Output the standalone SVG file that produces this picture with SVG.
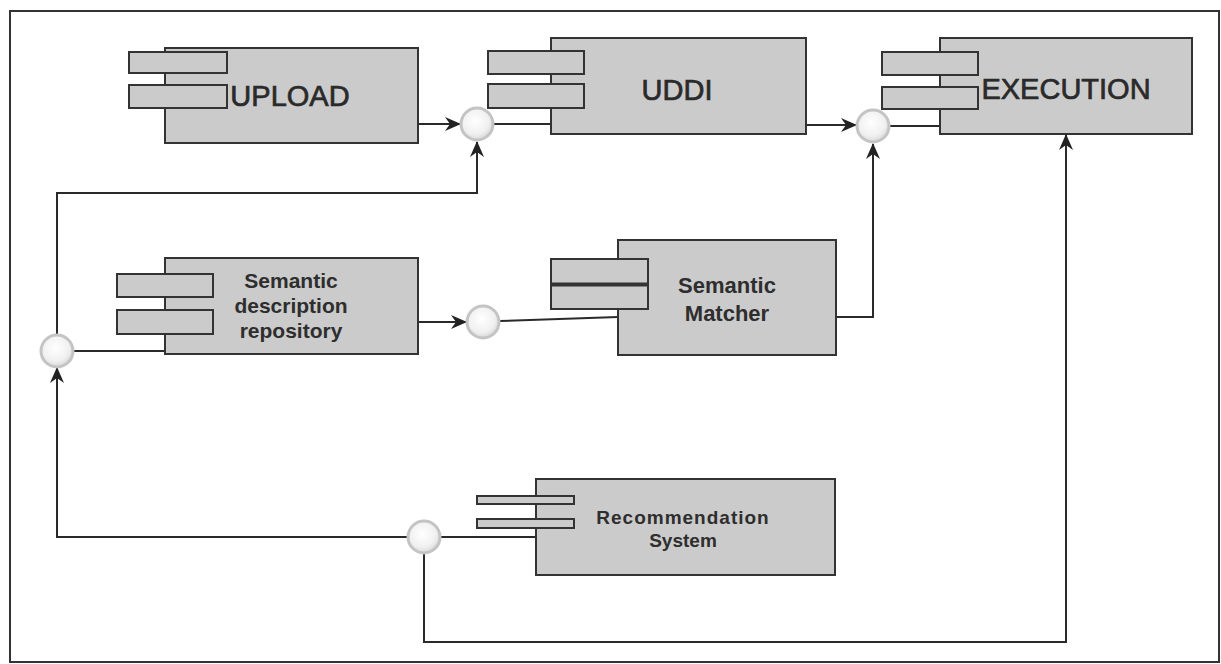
<svg xmlns="http://www.w3.org/2000/svg" width="1221" height="664" viewBox="0 0 1221 664">
<style>
.box{fill:#cbcbcb;stroke:#333;stroke-width:2}
.tab{fill:#cbcbcb;stroke:#333;stroke-width:2}
.big{font-family:"Liberation Sans",Arial,sans-serif;font-size:29px;fill:#2a2a2a;stroke:#2a2a2a;stroke-width:0.7;text-anchor:middle}
.lbl{font-family:"Liberation Sans",Arial,sans-serif;font-weight:bold;fill:#2e2e2e;text-anchor:middle}
.conn{fill:none;stroke:#2a2a2a;stroke-width:2}
.ifc{fill:url(#g);stroke:#c4c4c4;stroke-width:3}
</style>
<defs>
<radialGradient id="g" cx="0.45" cy="0.4" r="0.6">
<stop offset="0" stop-color="#ffffff"/>
<stop offset="0.7" stop-color="#f0f0f0"/>
<stop offset="1" stop-color="#d8d8d8"/>
</radialGradient>
<marker id="arr" viewBox="0 0 16 14" refX="15" refY="7" markerWidth="16" markerHeight="14" markerUnits="userSpaceOnUse" orient="auto">
<path d="M0,0 L16,7 L0,14 L5,7 Z" fill="#222"/>
</marker>
</defs>
<rect x="10" y="11" width="1209" height="651" fill="#fff" stroke="#333" stroke-width="2"/>
<g id="connectors">
<line class="conn" x1="418" y1="124" x2="460" y2="124" marker-end="url(#arr)"/>
<line class="conn" x1="494" y1="124" x2="551" y2="124"/>
<path class="conn" d="M57,334 V193 H477 V142" marker-end="url(#arr)"/>
<line class="conn" x1="74" y1="351" x2="165" y2="351"/>
<line class="conn" x1="418" y1="322" x2="466" y2="322" marker-end="url(#arr)"/>
<line class="conn" x1="500" y1="321" x2="618" y2="317"/>
<path class="conn" d="M836,317 H873 V144" marker-end="url(#arr)"/>
<line class="conn" x1="806" y1="125" x2="856" y2="125" marker-end="url(#arr)"/>
<line class="conn" x1="890" y1="126" x2="940" y2="126"/>
<path class="conn" d="M408,537 H57 V368" marker-end="url(#arr)"/>
<path class="conn" d="M424,553 V642 H1066 V135" marker-end="url(#arr)"/>
<line class="conn" x1="440" y1="537" x2="536" y2="537"/>
</g>
<g id="upload">
<rect class="box" x="165" y="48" width="253" height="95"/>
<rect class="tab" x="129" y="52" width="98" height="21"/>
<rect class="tab" x="129" y="85" width="98" height="23"/>
<text class="big" x="290" y="106">UPLOAD</text>
</g>
<g id="uddi">
<rect class="box" x="551" y="38" width="255" height="96"/>
<rect class="tab" x="488" y="51" width="96" height="23"/>
<rect class="tab" x="488" y="84" width="96" height="24"/>
<text class="big" x="677" y="100">UDDI</text>
</g>
<g id="execution">
<rect class="box" x="940" y="38" width="252" height="96"/>
<rect class="tab" x="882" y="52" width="96" height="23"/>
<rect class="tab" x="882" y="87" width="96" height="22"/>
<text class="big" x="1066" y="99">EXECUTION</text>
</g>
<g id="semantic-description-repository">
<rect class="box" x="165" y="258" width="253" height="96"/>
<rect class="tab" x="117" y="274" width="96" height="23"/>
<rect class="tab" x="117" y="310" width="96" height="24"/>
<text class="lbl" x="291" y="288" font-size="21">Semantic</text>
<text class="lbl" x="291" y="313" font-size="21">description</text>
<text class="lbl" x="291" y="338" font-size="21">repository</text>
</g>
<g id="semantic-matcher">
<rect class="box" x="618" y="240" width="218" height="115"/>
<rect class="tab" x="551" y="259" width="97" height="25"/>
<rect class="tab" x="551" y="285" width="97" height="24"/>
<line x1="551" y1="284.5" x2="648" y2="284.5" stroke="#333" stroke-width="4"/>
<text class="lbl" x="727" y="293" font-size="22">Semantic</text>
<text class="lbl" x="727" y="321" font-size="22">Matcher</text>
</g>
<g id="recommendation-system">
<rect class="box" x="536" y="479" width="299" height="96"/>
<rect class="tab" x="477" y="496" width="97" height="8"/>
<rect class="tab" x="477" y="519" width="97" height="9"/>
<text class="lbl" x="683" y="524" font-size="19" letter-spacing="1">Recommendation</text>
<text class="lbl" x="683" y="547" font-size="19">System</text>
</g>
<g id="iface-uddi"><circle class="ifc" cx="477" cy="124" r="16"/></g>
<g id="iface-execution"><circle class="ifc" cx="873" cy="126" r="16"/></g>
<g id="iface-left"><circle class="ifc" cx="57" cy="351" r="16"/></g>
<g id="iface-matcher"><circle class="ifc" cx="483" cy="322" r="16"/></g>
<g id="iface-recommendation"><circle class="ifc" cx="424" cy="537" r="16"/></g>
</svg>
